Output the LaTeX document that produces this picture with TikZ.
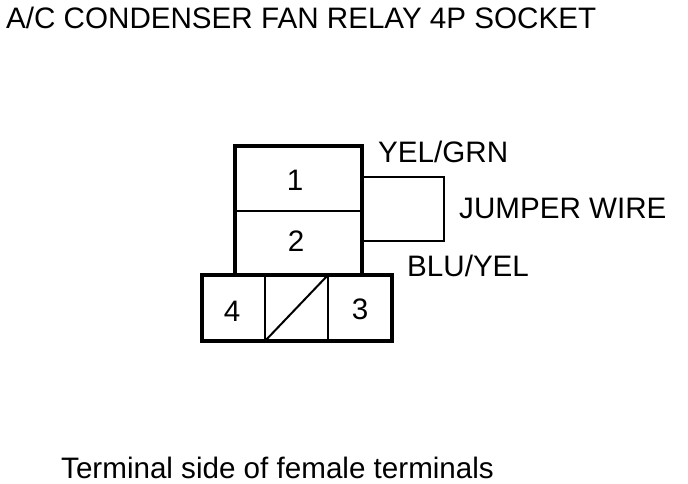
\documentclass[tikz,border=0pt]{standalone}
\usepackage{fontspec}
\setmainfont{Liberation Sans}
\usepackage{xcolor}
\tikzset{
  cell/.style={draw,line width=1.7pt,outer sep=0pt,inner sep=0pt},
  thickcell/.style={draw,line width=3.4pt,outer sep=0pt,inner sep=0pt},
  wiretext/.style={inner sep=0pt,anchor=base west,font=\fontsize{29.6}{32}\selectfont},
  pintext/.style={inner sep=0pt,font=\fontsize{29.6}{32}\selectfont}
}
\begin{document}
\begin{tikzpicture}[x=1pt,y=-1pt]
    \useasboundingbox (0,0) rectangle (688,484);
    \node[wiretext] (title) at (6,29) {A/C CONDENSER FAN RELAY 4P SOCKET};
    \node[wiretext] (side) at (61,478) {Terminal side of female terminals};
    % jumper wire
    \node[cell,line width=2.4pt,minimum width=82pt,minimum height=64pt] (jumper) at (403,209) {};
    % socket body
    \node[thickcell,minimum width=127pt,minimum height=129pt] (body) at (298.5,210.5) {};
    \node[cell,minimum width=127pt,minimum height=65pt,draw=none] (one) at (298.5,178.5) {};
    \node[cell,minimum width=127pt,minimum height=64pt,draw=none] (two) at (298.5,243) {};
    \draw[line width=1.7pt] (one.south west) -- (one.south east);
    % bottom row
    \node[thickcell,fill=white,minimum width=190pt,minimum height=66pt] (base) at (297,308) {};
    \coordinate (slashtop) at (base.north -| 328,0);
    \coordinate (slashbot) at (base.south -| 265,0);
    \draw[line width=2pt] (slashbot) -- (slashtop);
    \draw[line width=1.9pt] (slashbot) -- (base.north -| slashbot);
    \draw[line width=1.9pt] (slashtop) -- (base.south -| slashtop);
    % pin numbers
    \node[pintext] (pinone) at (295,180) {1};
    \node[pintext] (pintwo) at (296,241) {2};
    \node[pintext] (pinfour) at (232,311) {4};
    \node[pintext] (pinthree) at (360,309) {3};
    % wire labels
    \node[wiretext] (yelgrn) at (378,162) {YEL/GRN};
    \node[wiretext] (jumpertext) at (459,218) {JUMPER WIRE};
    \node[wiretext] (bluyel) at (407,276) {BLU/YEL};
\end{tikzpicture}
\end{document}
